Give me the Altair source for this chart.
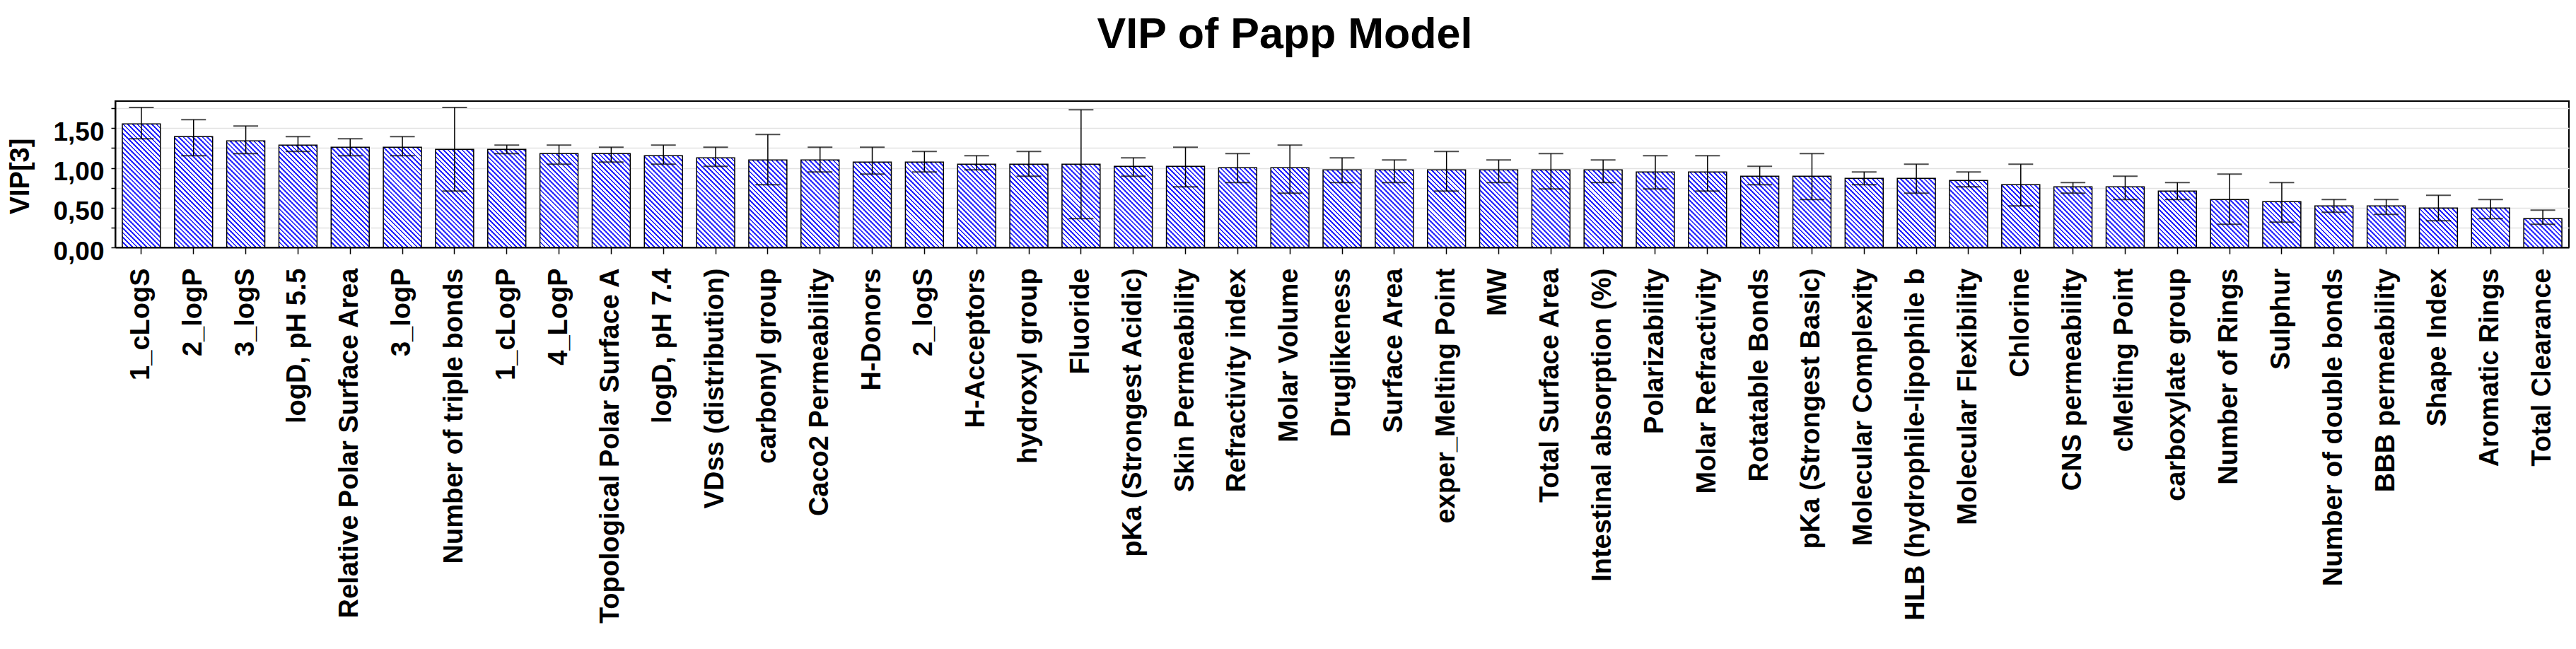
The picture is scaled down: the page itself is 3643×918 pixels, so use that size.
import altair as alt
import pandas as pd

names = [
    "1_cLogS", "2_logP", "3_logS", "logD, pH 5.5", "Relative Polar Surface Area",
    "3_logP", "Number of triple bonds", "1_cLogP", "4_LogP", "Topological Polar Surface A",
    "logD, pH 7.4", "VDss (distribution)", "carbonyl group", "Caco2 Permeability", "H-Donors",
    "2_logS", "H-Acceptors", "hydroxyl group", "Fluoride", "pKa (Strongest Acidic)",
    "Skin Permeability", "Refractivity index", "Molar Volume", "Druglikeness", "Surface Area",
    "exper_Melting Point", "MW", "Total Surface Area", "Intestinal absorption (%)", "Polarizability",
    "Molar Refractivity", "Rotatable Bonds", "pKa (Strongest Basic)", "Molecular Complexity",
    "HLB (hydrophile-lipophile b", "Molecular Flexibility", "Chlorine", "CNS permeability",
    "cMelting Point", "carboxylate group", "Number of Rings", "Sulphur", "Number of double bonds",
    "BBB permeability", "Shape Index", "Aromatic Rings", "Total Clearance",
]
vip = [
    1.554, 1.394, 1.340, 1.287, 1.260, 1.260, 1.234, 1.234, 1.180, 1.180,
    1.154, 1.127, 1.100, 1.100, 1.074, 1.074, 1.047, 1.047, 1.047, 1.020,
    1.020, 1.002, 1.002, 0.976, 0.976, 0.976, 0.976, 0.976, 0.976, 0.949,
    0.949, 0.896, 0.896, 0.869, 0.869, 0.842, 0.789, 0.762, 0.762, 0.709,
    0.602, 0.575, 0.522, 0.522, 0.495, 0.495, 0.362,
]
err_lo = [
    1.367, 1.154, 1.180, 1.207, 1.154, 1.154, 0.709, 1.180, 1.047, 1.074,
    1.047, 1.020, 0.789, 0.949, 0.922, 0.949, 0.976, 0.896, 0.362, 0.896,
    0.762, 0.816, 0.682, 0.816, 0.816, 0.709, 0.816, 0.735, 0.816, 0.735,
    0.709, 0.789, 0.602, 0.789, 0.682, 0.762, 0.522, 0.682, 0.602, 0.602,
    0.291, 0.317, 0.442, 0.415, 0.335, 0.362, 0.291,
]
err_hi = [
    1.759, 1.607, 1.527, 1.394, 1.367, 1.394, 1.759, 1.287, 1.287, 1.260,
    1.287, 1.260, 1.420, 1.260, 1.260, 1.207, 1.154, 1.207, 1.732, 1.127,
    1.260, 1.180, 1.287, 1.127, 1.100, 1.207, 1.100, 1.180, 1.100, 1.154,
    1.154, 1.020, 1.180, 0.949, 1.047, 0.949, 1.047, 0.816, 0.896, 0.816,
    0.922, 0.816, 0.602, 0.602, 0.655, 0.602, 0.469,
]
y_ticks = [0.0, 0.25, 0.5, 0.75, 1.0, 1.25, 1.5, 1.75]

Y_MAX = 1.84
PLOT_W = 3470
PLOT_H = 207
PAD_INNER = 0.27
PAD_OUTER = 0.135
FONT = "Liberation Sans"

df = pd.DataFrame({
    "idx": list(range(len(names))),
    "name": names,
    "vip": vip,
    "lo": err_lo,
    "hi": err_hi,
})

step = PLOT_W / (len(names) - PAD_INNER + 2 * PAD_OUTER)
bar_w = step * (1 - PAD_INNER)


def hatch(value, period=6.7, duty=0.4, ink="#2a2aff", paper="#ffffff"):
    """Diagonal (\\) stripe fill as a hard-stop linear gradient, 45 degrees in screen space."""
    h = max(value / Y_MAX * PLOT_H, 1.0)
    w = bar_w
    c = (w + h) / (w * w + h * h)
    n = (w + h) / period
    stops = []
    i = 0
    while i / n < 1:
        a = round(i / n, 5)
        b = round(min((i + duty) / n, 1.0), 5)
        e = round(min((i + 1) / n, 1.0), 5)
        stops.append({"offset": a, "color": ink})
        stops.append({"offset": b, "color": ink})
        if b < 1:
            stops.append({"offset": b, "color": paper})
            stops.append({"offset": e, "color": paper})
        i += 1
    return {
        "gradient": "linear",
        "x1": 0, "y1": 1,
        "x2": round(c * w, 5), "y2": round(1 - c * h, 5),
        "stops": stops,
    }


x_axis = alt.Axis(
    title=None, labelAngle=-90, labelAlign="right", labelBaseline="middle",
    labelFont=FONT, labelFontWeight="bold", labelFontSize=38, labelColor="black",
    labelPadding=20, labelLimit=1000, labelOverlap=False,
    tickSize=9, tickColor="black", tickWidth=1.5,
    domainColor="black", domainWidth=2, grid=False,
)
y_axis = alt.Axis(
    title="VIP[3]", values=y_ticks,
    labelExpr="datum.value % 0.5 == 0 ? replace(format(datum.value, '.2f'), '.', ',') : ''",
    labelFont=FONT, labelFontWeight="bold", labelFontSize=37, labelColor="black",
    labelPadding=10, labelOffset=6, labelOverlap=False,
    tickSize=6, tickColor="black", tickWidth=1.5,
    domainColor="black", domainWidth=2,
    grid=True, gridColor="#e2e2e2", gridWidth=1.5,
    titleFont=FONT, titleFontWeight="bold", titleFontSize=38, titleColor="black",
    titleAngle=-90, titleAlign="center", titleBaseline="alphabetic",
    titleX=-123, titleY=106,
)

x_enc = alt.X("name:N", sort=names,
              scale=alt.Scale(domain=names, paddingInner=PAD_INNER, paddingOuter=PAD_OUTER),
              axis=x_axis)
y_scale = alt.Scale(domain=[0, Y_MAX], nice=False, zero=True)

base = alt.Chart(df)

bar_layers = [
    base.transform_filter(alt.datum.idx == i)
    .mark_bar(fill=hatch(v), stroke="black", strokeWidth=1.5)
    .encode(x=x_enc, y=alt.Y("vip:Q", scale=y_scale, axis=y_axis))
    for i, v in enumerate(vip)
]

err_rule = base.mark_rule(color="black", strokeWidth=1.5).encode(
    x=x_enc, y=alt.Y("lo:Q", scale=y_scale, axis=y_axis), y2="hi:Q"
)
cap_hi = base.mark_tick(color="black", thickness=2, size=35).encode(
    x=x_enc, y=alt.Y("hi:Q", scale=y_scale, axis=y_axis)
)
cap_lo = base.mark_tick(color="black", thickness=2, size=35).encode(
    x=x_enc, y=alt.Y("lo:Q", scale=y_scale, axis=y_axis)
)

chart = (
    alt.layer(*bar_layers, err_rule, cap_hi, cap_lo)
    .properties(
        width=PLOT_W, height=PLOT_H,
        padding={"left": 155, "top": 135, "right": 2, "bottom": 555},
        autosize=alt.AutoSizeParams(type="none"),
        background="white",
        title=alt.TitleParams(
            text="VIP of Papp Model", font=FONT, fontSize=61, fontWeight="bold",
            color="black", anchor="middle", frame="group", dx=-81,
            baseline="alphabetic", offset=11,
        ),
    )
    .configure_view(stroke="black", strokeWidth=2)
)

chart.save("out.html", embed_options={"renderer": "svg", "actions": False})
